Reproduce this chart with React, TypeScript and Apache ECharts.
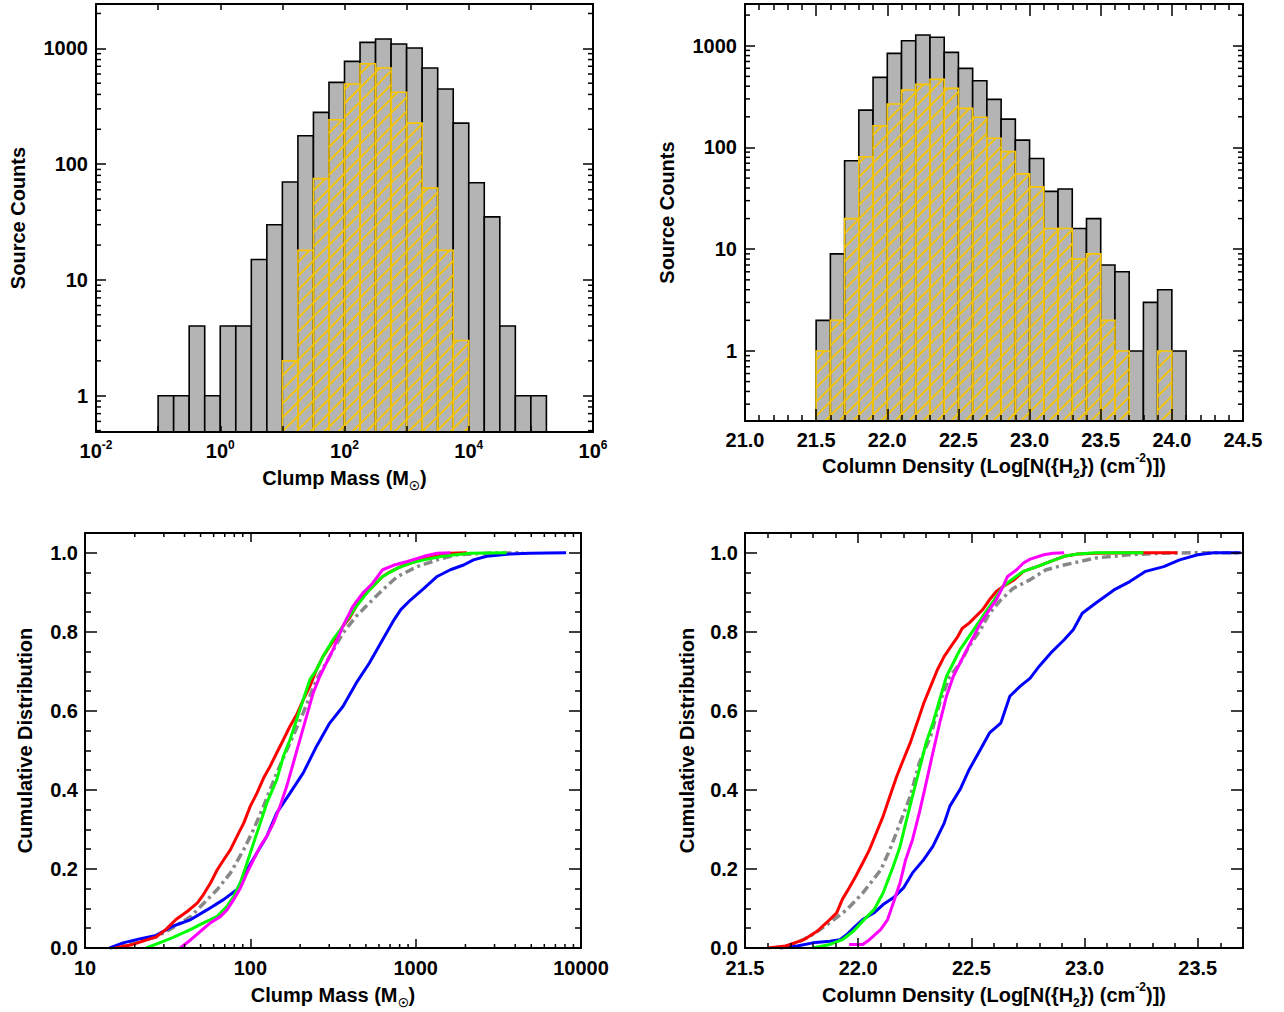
import React, { useEffect, useRef } from 'react';
import * as echarts from 'echarts';

// ---------------- Data ----------------
// Top-left: clump mass histogram, bin edges in log10(M / Msun), 0.25 dex bins
const massBinEdgesLog = [-1.0, -0.75, -0.5, -0.25, 0.0, 0.25, 0.5, 0.75, 1.0, 1.25, 1.5, 1.75, 2.0, 2.25, 2.5, 2.75, 3.0, 3.25, 3.5, 3.75, 4.0, 4.25, 4.5, 4.75, 5.0, 5.25];
const massCountsAll = [1, 1, 4, 1, 4, 4, 15, 30, 70, 176, 280, 508, 772, 1127, 1205, 1090, 1006, 676, 445, 226, 69, 35, 4, 1, 1];
const massCountsSub = [0, 0, 0, 0, 0, 0, 0, 0, 2, 18, 75, 242, 492, 737, 676, 417, 226, 62, 18, 3, 0, 0, 0, 0, 0];

// Top-right: column density histogram, 0.1 dex bins
const colBinEdges = [21.5, 21.6, 21.7, 21.8, 21.9, 22.0, 22.1, 22.2, 22.3, 22.4, 22.5, 22.6, 22.7, 22.8, 22.9, 23.0, 23.1, 23.2, 23.3, 23.4, 23.5, 23.6, 23.7, 23.8, 23.9, 24.0, 24.1];
const colCountsAll = [2, 9, 74, 233, 489, 841, 1120, 1274, 1209, 860, 599, 453, 297, 190, 118, 78, 37, 39, 16, 20, 7, 6, 1, 3, 4, 1];
const colCountsSub = [1, 2, 20, 81, 163, 267, 367, 417, 467, 381, 242, 198, 123, 91, 55, 41, 16, 16, 8, 9, 2, 1, 0, 0, 1, 0];

// Bottom-left: cumulative distributions of clump mass, [log10(M), CDF]
const massCdfRed = [[1.18, 0], [1.29, 0.009], [1.43, 0.028], [1.49, 0.047], [1.55, 0.072], [1.62, 0.093], [1.68, 0.114], [1.71, 0.131], [1.76, 0.165], [1.8, 0.198], [1.84, 0.224], [1.88, 0.249], [1.92, 0.283], [1.96, 0.316], [2.0, 0.359], [2.04, 0.392], [2.08, 0.43], [2.12, 0.46], [2.16, 0.494], [2.2, 0.527], [2.24, 0.561], [2.28, 0.59], [2.32, 0.628], [2.36, 0.662], [2.4, 0.704], [2.44, 0.738], [2.48, 0.763], [2.52, 0.788], [2.56, 0.814], [2.6, 0.835], [2.64, 0.864], [2.68, 0.89], [2.72, 0.906], [2.76, 0.923], [2.8, 0.94], [2.85, 0.953], [2.91, 0.965], [2.97, 0.974], [3.05, 0.984], [3.13, 0.992], [3.21, 0.999], [3.31, 1.0]];
const massCdfGray = [[1.15, 0], [1.29, 0.013], [1.43, 0.028], [1.53, 0.051], [1.64, 0.08], [1.72, 0.114], [1.8, 0.148], [1.88, 0.19], [1.96, 0.249], [2.02, 0.3], [2.08, 0.359], [2.16, 0.443], [2.24, 0.519], [2.32, 0.595], [2.4, 0.679], [2.48, 0.738], [2.56, 0.797], [2.64, 0.839], [2.72, 0.873], [2.8, 0.906], [2.89, 0.94], [3.01, 0.965], [3.13, 0.982], [3.25, 0.995], [3.43, 0.999], [3.65, 1.0]];
const massCdfGreen = [[1.37, 0], [1.45, 0.013], [1.53, 0.026], [1.64, 0.047], [1.72, 0.064], [1.8, 0.08], [1.86, 0.106], [1.9, 0.131], [1.94, 0.165], [1.98, 0.215], [2.02, 0.266], [2.06, 0.316], [2.1, 0.367], [2.16, 0.426], [2.2, 0.485], [2.24, 0.527], [2.28, 0.578], [2.32, 0.628], [2.36, 0.679], [2.4, 0.704], [2.44, 0.738], [2.5, 0.78], [2.56, 0.814], [2.64, 0.864], [2.72, 0.906], [2.8, 0.94], [2.89, 0.961], [2.97, 0.974], [3.05, 0.982], [3.17, 0.992], [3.33, 0.999], [3.55, 1.0]];
const massCdfMagenta = [[1.575, 0], [1.64, 0.021], [1.7, 0.043], [1.76, 0.064], [1.82, 0.08], [1.86, 0.097], [1.9, 0.123], [1.94, 0.152], [1.98, 0.19], [2.02, 0.224], [2.06, 0.257], [2.1, 0.283], [2.14, 0.316], [2.18, 0.359], [2.22, 0.409], [2.26, 0.468], [2.3, 0.527], [2.34, 0.586], [2.38, 0.645], [2.42, 0.687], [2.46, 0.721], [2.5, 0.755], [2.56, 0.814], [2.62, 0.864], [2.68, 0.898], [2.74, 0.923], [2.8, 0.957], [2.87, 0.969], [2.95, 0.978], [3.05, 0.991], [3.13, 0.999], [3.21, 1.0]];
const massCdfBlue = [[1.15, 0], [1.23, 0.013], [1.33, 0.023], [1.43, 0.032], [1.53, 0.055], [1.64, 0.072], [1.74, 0.097], [1.84, 0.123], [1.92, 0.148], [1.98, 0.198], [2.04, 0.241], [2.1, 0.283], [2.16, 0.342], [2.24, 0.392], [2.32, 0.443], [2.4, 0.51], [2.48, 0.569], [2.56, 0.611], [2.64, 0.67], [2.72, 0.721], [2.8, 0.78], [2.87, 0.831], [2.91, 0.856], [2.97, 0.881], [3.05, 0.91], [3.13, 0.94], [3.21, 0.957], [3.29, 0.969], [3.35, 0.982], [3.43, 0.991], [3.57, 0.997], [3.69, 0.999], [3.91, 1.0]];

// Bottom-right: cumulative distributions of column density, [log N(H2), CDF]
const colCdfRed = [[21.6, 0], [21.68, 0.005], [21.76, 0.021], [21.82, 0.043], [21.86, 0.064], [21.905, 0.089], [21.93, 0.123], [21.96, 0.152], [21.99, 0.182], [22.02, 0.215], [22.05, 0.249], [22.08, 0.291], [22.11, 0.333], [22.14, 0.384], [22.17, 0.434], [22.2, 0.477], [22.23, 0.519], [22.26, 0.569], [22.29, 0.62], [22.32, 0.662], [22.35, 0.704], [22.38, 0.738], [22.41, 0.763], [22.44, 0.788], [22.46, 0.809], [22.49, 0.822], [22.52, 0.839], [22.55, 0.856], [22.58, 0.881], [22.61, 0.902], [22.64, 0.915], [22.69, 0.932], [22.73, 0.953], [22.79, 0.965], [22.85, 0.978], [22.91, 0.991], [22.97, 0.997], [23.05, 0.999], [23.2, 1.0], [23.41, 1.0]];
const colCdfGray = [[21.655, 0], [21.73, 0.013], [21.8, 0.034], [21.875, 0.064], [21.95, 0.097], [22.02, 0.139], [22.1, 0.198], [22.14, 0.249], [22.185, 0.316], [22.23, 0.384], [22.27, 0.468], [22.32, 0.536], [22.36, 0.62], [22.405, 0.687], [22.45, 0.721], [22.49, 0.763], [22.54, 0.805], [22.58, 0.847], [22.63, 0.881], [22.685, 0.91], [22.76, 0.932], [22.83, 0.957], [22.91, 0.969], [22.98, 0.978], [23.05, 0.987], [23.13, 0.991], [23.2, 0.995], [23.35, 0.999], [23.5, 1.0], [23.69, 1.0]];
const colCdfGreen = [[21.8, 0], [21.875, 0.009], [21.93, 0.021], [21.98, 0.043], [22.02, 0.068], [22.07, 0.097], [22.11, 0.139], [22.155, 0.207], [22.185, 0.257], [22.21, 0.316], [22.24, 0.384], [22.27, 0.451], [22.3, 0.519], [22.33, 0.569], [22.36, 0.628], [22.39, 0.687], [22.42, 0.721], [22.45, 0.755], [22.48, 0.78], [22.51, 0.805], [22.55, 0.839], [22.6, 0.88], [22.64, 0.915], [22.685, 0.935], [22.73, 0.953], [22.79, 0.965], [22.85, 0.978], [22.91, 0.991], [22.97, 0.997], [23.05, 1.0], [23.26, 1.0]];
const colCdfMagenta = [[21.96, 0.009], [22.02, 0.009], [22.05, 0.021], [22.1, 0.047], [22.13, 0.072], [22.155, 0.114], [22.185, 0.165], [22.21, 0.224], [22.24, 0.274], [22.27, 0.342], [22.3, 0.417], [22.33, 0.494], [22.36, 0.569], [22.39, 0.637], [22.42, 0.687], [22.45, 0.721], [22.48, 0.755], [22.51, 0.788], [22.54, 0.822], [22.58, 0.856], [22.61, 0.881], [22.64, 0.915], [22.66, 0.94], [22.7, 0.957], [22.73, 0.974], [22.76, 0.984], [22.82, 0.995], [22.86, 0.999], [22.91, 1.0]];
const colCdfBlue = [[21.655, 0], [21.73, 0.005], [21.8, 0.013], [21.875, 0.017], [21.92, 0.021], [21.95, 0.034], [21.98, 0.051], [22.02, 0.072], [22.07, 0.089], [22.11, 0.11], [22.155, 0.127], [22.2, 0.152], [22.24, 0.19], [22.29, 0.224], [22.33, 0.257], [22.38, 0.316], [22.405, 0.359], [22.45, 0.401], [22.49, 0.451], [22.54, 0.502], [22.58, 0.544], [22.63, 0.569], [22.67, 0.637], [22.715, 0.662], [22.76, 0.683], [22.8, 0.713], [22.85, 0.746], [22.91, 0.78], [22.95, 0.805], [22.99, 0.847], [23.05, 0.873], [23.13, 0.906], [23.2, 0.927], [23.27, 0.953], [23.35, 0.965], [23.42, 0.982], [23.5, 0.995], [23.57, 1.0], [23.69, 1.0]];

// Axis ranges
const massHistXRange = [0.01, 1e6];
const massHistYRange = [0.486, 2415];
const colHistXRange = [21.0, 24.5];
const colHistYRange = [0.205, 2570];
const massCdfXRange = [10, 10000];
const colCdfXRange = [21.5, 23.7];
const cdfYRange = [0, 1.05];

// ---------------- Styling ----------------
const FONT = "'Liberation Sans', Arial, Helvetica, sans-serif";
const GOLD = '#f7c600';
const GRAYFILL = '#b4b4b4';
const baseText = { color: '#000', fontFamily: FONT, fontSize: 20, fontWeight: 'bold' as const };
const richScripts = {
  sup: { color: '#000', fontFamily: FONT, fontSize: 12, fontWeight: 'bold' as const, verticalAlign: 'top' as const, lineHeight: 12 },
  sub: { color: '#000', fontFamily: FONT, fontSize: 12, fontWeight: 'bold' as const, verticalAlign: 'bottom' as const, lineHeight: 12 },
};

const grids = [
  { left: 96, top: 4, width: 497, height: 428 },
  { left: 745, top: 4, width: 498, height: 417 },
  { left: 85, top: 533, width: 496, height: 415 },
  { left: 745, top: 533, width: 498, height: 415 },
];

const near = (a: number, b: number) => Math.abs(a - b) < 1e-6;
const decadeLabel = (v: number) => {
  const e = Math.log10(v);
  const r = Math.round(e);
  return near(e, r) ? String(Math.round(Math.pow(10, r))) : '';
};
const powerLabel = (v: number) => {
  const e = Math.log10(v);
  const r = Math.round(e);
  if (!near(e, r) || r % 2 !== 0) return '';
  return `10{sup|${r}}`;
};
const stepLabel = (step: number) => (v: number) => (near(v / step, Math.round(v / step)) ? v.toFixed(1) : '');

function axisPair(kind: 'x' | 'y', gi: number, base: any, label: any, tickLen: number, name?: any) {
  const common = {
    gridIndex: gi,
    ...base,
    axisLine: { show: true, onZero: false, lineStyle: { color: '#000', width: 2 } },
    axisTick: { show: true, inside: true, length: tickLen, lineStyle: { color: '#000', width: 1.5 } },
    splitLine: { show: false },
    minorSplitLine: { show: false },
    z: 5,
  };
  const main = {
    ...common,
    position: kind === 'x' ? 'bottom' : 'left',
    axisLabel: { show: true, showMinLabel: true, showMaxLabel: true, ...baseText, ...label },
    ...(name || {}),
  };
  const mirror = { ...common, position: kind === 'x' ? 'top' : 'right', axisLabel: { show: false }, name: '' };
  return [main, mirror];
}

function logMinor(range: number[]) {
  const out: number[] = [];
  for (let e = Math.floor(Math.log10(range[0])); e <= Math.ceil(Math.log10(range[1])); e++) {
    for (let k = 2; k <= 9; k++) {
      const v = k * Math.pow(10, e);
      if (v > range[0] && v < range[1]) out.push(v);
    }
  }
  return out;
}

function minorTicks(gi: number, dim: 'x' | 'y', values: number[], other: number, len: number) {
  return {
    type: 'custom',
    xAxisIndex: gi * 2,
    yAxisIndex: gi * 2,
    silent: true,
    clip: false,
    z: 6,
    data: values.map((v) => (dim === 'x' ? [v, other] : [other, v])),
    renderItem: (params: any, api: any) => {
      const cs = params.coordSys;
      const p = api.coord([api.value(0), api.value(1)]);
      const st = { stroke: '#000', lineWidth: 1.5 };
      if (dim === 'x') {
        const b = cs.y + cs.height;
        const t = cs.y;
        return {
          type: 'group',
          children: [
            { type: 'line', shape: { x1: p[0], y1: b, x2: p[0], y2: b - len }, style: st },
            { type: 'line', shape: { x1: p[0], y1: t, x2: p[0], y2: t + len }, style: st },
          ],
        };
      }
      const l = cs.x;
      const r = cs.x + cs.width;
      return {
        type: 'group',
        children: [
          { type: 'line', shape: { x1: l, y1: p[1], x2: l + len, y2: p[1] }, style: st },
          { type: 'line', shape: { x1: r, y1: p[1], x2: r - len, y2: p[1] }, style: st },
        ],
      };
    },
  };
}

function histSeries(gi: number, edges: number[], counts: number[], isLog: boolean, kind: 'gray' | 'hatch') {
  const toX = (e: number) => (isLog ? Math.pow(10, e) : e);
  const data = counts
    .map((c, i) => [toX(edges[i]), c, toX(edges[i + 1])])
    .filter((d) => d[1] > 0);
  return {
    type: 'custom',
    xAxisIndex: gi * 2,
    yAxisIndex: gi * 2,
    silent: true,
    clip: true,
    z: kind === 'gray' ? 2 : 3,
    encode: { x: [0, 2], y: 1 },
    data,
    renderItem: (params: any, api: any) => {
      const cs = params.coordSys;
      const bottom = cs.y + cs.height;
      const pL = api.coord([api.value(0), api.value(1)]);
      const pR = api.coord([api.value(2), api.value(1)]);
      const x0 = pL[0];
      const x1 = pR[0];
      const yTop = pL[1];
      const shape = { x: x0, y: yTop, width: x1 - x0, height: bottom - yTop };
      if (kind === 'gray') {
        return { type: 'rect', shape, style: { fill: GRAYFILL, stroke: '#000', lineWidth: 1.6 } };
      }
      const children: any[] = [];
      const S = 14;
      for (let k = Math.ceil((x0 + yTop) / S); k * S <= x1 + bottom; k++) {
        const c = k * S;
        const xa = Math.max(x0, c - bottom);
        const xb = Math.min(x1, c - yTop);
        if (xb > xa) {
          children.push({ type: 'line', shape: { x1: xa, y1: c - xa, x2: xb, y2: c - xb }, style: { stroke: GOLD, lineWidth: 1.8 } });
        }
      }
      children.push({ type: 'rect', shape, style: { fill: 'none', stroke: GOLD, lineWidth: 1.6 } });
      return { type: 'group', children };
    },
  };
}

function cdfLine(gi: number, pts: number[][], color: string, dashed: boolean, isLog: boolean) {
  return {
    type: 'line',
    xAxisIndex: gi * 2,
    yAxisIndex: gi * 2,
    showSymbol: false,
    symbol: 'none',
    silent: true,
    clip: true,
    z: 3,
    data: pts.map(([x, y]) => [isLog ? Math.pow(10, x) : x, y]),
    lineStyle: { color, width: dashed ? 3.5 : 3, type: dashed ? [9, 4, 3, 4] : 'solid' },
  };
}

const nameStyle = { ...baseText, lineHeight: 28, rich: { ...richScripts } };
const massTitle = 'Clump Mass (M{sub|☉})';
const colTitle = 'Column Density (Log[N({H{sub|2}}) (cm{sup|-2})])';

const xAxes = [
  ...axisPair('x', 0, { type: 'log', logBase: 10, min: massHistXRange[0], max: massHistXRange[1] },
    { formatter: powerLabel, margin: 7, lineHeight: 24, rich: { sup: { ...richScripts.sup } } }, 6,
    { name: massTitle, nameLocation: 'middle', nameGap: 30, nameTextStyle: nameStyle }),
  ...axisPair('x', 1, { type: 'value', min: colHistXRange[0], max: colHistXRange[1], interval: 0.5,
    minorTick: { show: true, splitNumber: 5, length: 6, lineStyle: { color: '#000', width: 1.5 } } },
    { formatter: (v: number) => v.toFixed(1), margin: 9 }, 12,
    { name: colTitle, nameLocation: 'middle', nameGap: 31, nameTextStyle: nameStyle }),
  ...axisPair('x', 2, { type: 'log', logBase: 10, min: massCdfXRange[0], max: massCdfXRange[1] },
    { formatter: decadeLabel, margin: 10 }, 9,
    { name: massTitle, nameLocation: 'middle', nameGap: 33, nameTextStyle: nameStyle }),
  ...axisPair('x', 3, { type: 'value', min: colCdfXRange[0], max: colCdfXRange[1], interval: 0.5,
    minorTick: { show: true, splitNumber: 5, length: 5, lineStyle: { color: '#000', width: 1.5 } } },
    { formatter: stepLabel(0.5), margin: 10 }, 10,
    { name: colTitle, nameLocation: 'middle', nameGap: 33, nameTextStyle: nameStyle }),
];

const yNameStyle = { ...baseText, lineHeight: 24 };
const yAxes = [
  ...axisPair('y', 0, { type: 'log', logBase: 10, min: massHistYRange[0], max: massHistYRange[1] },
    { formatter: decadeLabel, margin: 8 }, 10,
    { name: 'Source Counts', nameLocation: 'middle', nameGap: 66, nameTextStyle: yNameStyle }),
  ...axisPair('y', 1, { type: 'log', logBase: 10, min: colHistYRange[0], max: colHistYRange[1] },
    { formatter: decadeLabel, margin: 8 }, 10,
    { name: 'Source Counts', nameLocation: 'middle', nameGap: 66, nameTextStyle: yNameStyle }),
  ...axisPair('y', 2, { type: 'value', min: cdfYRange[0], max: cdfYRange[1], interval: 0.2,
    minorTick: { show: true, splitNumber: 4, length: 6, lineStyle: { color: '#000', width: 1.5 } } },
    { formatter: stepLabel(0.2), margin: 7 }, 12,
    { name: 'Cumulative Distribution', nameLocation: 'middle', nameGap: 48, nameTextStyle: yNameStyle }),
  ...axisPair('y', 3, { type: 'value', min: cdfYRange[0], max: cdfYRange[1], interval: 0.2,
    minorTick: { show: true, splitNumber: 4, length: 6, lineStyle: { color: '#000', width: 1.5 } } },
    { formatter: stepLabel(0.2), margin: 7 }, 12,
    { name: 'Cumulative Distribution', nameLocation: 'middle', nameGap: 46, nameTextStyle: yNameStyle }),
];

const series: any[] = [
  // histograms
  histSeries(0, massBinEdgesLog, massCountsAll, true, 'gray'),
  histSeries(0, massBinEdgesLog, massCountsSub, true, 'hatch'),
  histSeries(1, colBinEdges, colCountsAll, false, 'gray'),
  histSeries(1, colBinEdges, colCountsSub, false, 'hatch'),
  // minor ticks on log axes
  minorTicks(0, 'y', logMinor(massHistYRange), 1, 5),
  minorTicks(1, 'y', logMinor(colHistYRange), 22, 5),
  minorTicks(2, 'x', logMinor(massCdfXRange), 0.5, 4),
  // cumulative distributions
  cdfLine(2, massCdfGray, '#888888', true, true),
  cdfLine(2, massCdfBlue, '#0000ff', false, true),
  cdfLine(2, massCdfRed, '#ff0000', false, true),
  cdfLine(2, massCdfGreen, '#00ff00', false, true),
  cdfLine(2, massCdfMagenta, '#ff00ff', false, true),
  cdfLine(3, colCdfGray, '#888888', true, false),
  cdfLine(3, colCdfBlue, '#0000ff', false, false),
  cdfLine(3, colCdfRed, '#ff0000', false, false),
  cdfLine(3, colCdfGreen, '#00ff00', false, false),
  cdfLine(3, colCdfMagenta, '#ff00ff', false, false),
];

const option: any = {
  animation: false,
  backgroundColor: '#ffffff',
  textStyle: { fontFamily: FONT },
  grid: grids.map((g) => ({ ...g, containLabel: false, outerBoundsMode: 'none' })),
  xAxis: xAxes,
  yAxis: yAxes,
  series,
};

export default function App() {
  const ref = useRef<HTMLDivElement>(null);
  useEffect(() => {
    const chart = echarts.init(ref.current as HTMLDivElement, null, { renderer: 'svg', width: 1284, height: 1012 });
    chart.setOption(option);
    return () => chart.dispose();
  }, []);
  return (
    <div
      ref={ref}
      style={{ position: 'absolute', left: 0, top: 0, width: 1284, height: 1012, background: '#fff' }}
    />
  );
}
